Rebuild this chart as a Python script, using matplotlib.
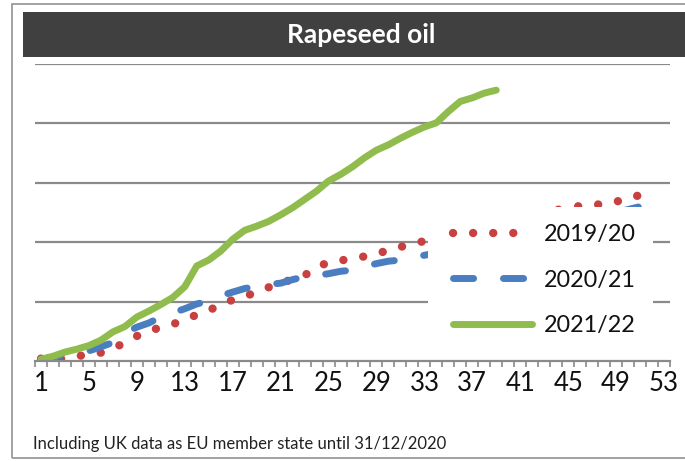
import numpy as np
import matplotlib
matplotlib.use('Agg')
import matplotlib.pyplot as plt
from matplotlib.patches import Rectangle

plt.rcParams['font.family'] = ['Lato', 'DejaVu Sans']

# weekly cumulative values (units of one gridline step)
weeks = np.arange(1, 54)
tick_weeks = list(range(1, 54, 4))

s2019 = [0.04, 0.03, 0.04, 0.08, 0.11, 0.14, 0.21, 0.31, 0.42, 0.50,
         0.57, 0.62, 0.69, 0.78, 0.85, 0.95, 1.03, 1.08, 1.17, 1.24,
         1.32, 1.37, 1.44, 1.58, 1.66, 1.69, 1.73, 1.76, 1.81, 1.86,
         1.92, 1.97, 2.02, 2.07, 2.12, 2.17, 2.22, 2.27, 2.32, 2.37,
         2.41, 2.46, 2.50, 2.54, 2.58, 2.61, 2.63, 2.64, 2.68, 2.75,
         2.79, 2.81]
s2020 = [0.02, 0.07, 0.10, 0.14, 0.17, 0.24, 0.31, 0.47, 0.57, 0.64,
         0.74, 0.81, 0.88, 0.96, 1.01, 1.10, 1.16, 1.22, 1.26, 1.29,
         1.31, 1.37, 1.42, 1.44, 1.47, 1.51, 1.53, 1.59, 1.64, 1.68,
         1.70, 1.75, 1.78, 1.82, 1.86, 1.91, 1.95, 2.00, 2.04, 2.09,
         2.13, 2.18, 2.22, 2.27, 2.31, 2.36, 2.40, 2.45, 2.50, 2.55,
         2.60, 2.64]
s2021 = [0.03, 0.08, 0.15, 0.20, 0.26, 0.35, 0.49, 0.58, 0.74, 0.84,
         0.95, 1.07, 1.25, 1.60, 1.70, 1.85, 2.05, 2.20, 2.27, 2.35,
         2.46, 2.58, 2.72, 2.86, 3.03, 3.14, 3.27, 3.42, 3.55, 3.64,
         3.75, 3.85, 3.94, 4.01, 4.20, 4.37, 4.43, 4.51, 4.56]

labels = ['2019/20', '2020/21', '2021/22']
colors = ['#C8403F', '#4A7EC0', '#90BC4E']

W, H = 685, 461
fig = plt.figure(figsize=(W / 100, H / 100), dpi=100)

# outer frame and title bar
fig.add_artist(Rectangle((11.5 / W, 1 - 457.5 / H), 1.0, (453.5) / H,
                         transform=fig.transFigure, fill=False,
                         edgecolor='#9a9a9a', linewidth=1.3))
fig.add_artist(Rectangle((23 / W, 1 - 57 / H), 1.0, 45 / H,
                         transform=fig.transFigure, facecolor='#404040',
                         edgecolor='none'))
fig.text(361 / W, 1 - 35 / H, 'Rapeseed oil', color='white',
         fontsize=19, fontweight='bold', ha='center', va='center')

ax = fig.add_axes([35 / W, 1 - 361 / H, 635 / W, 297 / H])

l1, = ax.plot(weeks[:len(s2019)], s2019, color=colors[0], linewidth=6,
              dashes=(0.01, 2.4), dash_capstyle='round', label=labels[0])
l2, = ax.plot(weeks[:len(s2020)], s2020, color=colors[1], linewidth=5,
              dashes=(2.9, 4.3), dash_capstyle='round', label=labels[1])
l3, = ax.plot(weeks[:len(s2021)], s2021, color=colors[2], linewidth=5,
              solid_capstyle='round', solid_joinstyle='round', label=labels[2])

ax.set_xlim(0.5, 53.5)
ax.set_ylim(0, 5)
ax.set_yticks([1, 2, 3, 4, 5])
ax.yaxis.grid(True, color='#8a8a8a', linewidth=1.6)
ax.set_axisbelow(True)
ax.tick_params(axis='y', length=0, labelleft=False)

for s in ['left', 'right', 'top']:
    ax.spines[s].set_visible(False)
ax.spines['bottom'].set_color('#8a8a8a')
ax.spines['bottom'].set_linewidth(1.6)

ax.set_xticks(tick_weeks)
ax.set_xticklabels([str(w) for w in tick_weeks], fontsize=18.5)
ax.set_xticks(np.arange(0.5, 54, 1), minor=True)
ax.tick_params(axis='x', which='major', length=0, pad=7, labelcolor='#111111')
ax.tick_params(axis='x', which='minor', length=4.5, width=1.2, color='#8a8a8a')

# white legend box sitting over the lines
ax.add_patch(Rectangle((0.619, 0.054), 0.354, 0.465, transform=ax.transAxes,
                       facecolor='white', edgecolor='none', zorder=4))
leg = ax.legend(handles=[l1, l2, l3], loc='upper left',
                bbox_to_anchor=(0.658, 0.461), frameon=False, fontsize=16.8,
                handlelength=3.4, handletextpad=0.5, labelspacing=1.05,
                borderpad=0, borderaxespad=0)
leg.set_zorder(5)
for t in leg.get_texts():
    t.set_color('#111111')

fig.text(33 / W, 1 - 444 / H, 'Including UK data as EU member state until 31/12/2020',
         fontsize=12, color='#222222', ha='left', va='center')

fig.savefig('out.png', dpi=100)
